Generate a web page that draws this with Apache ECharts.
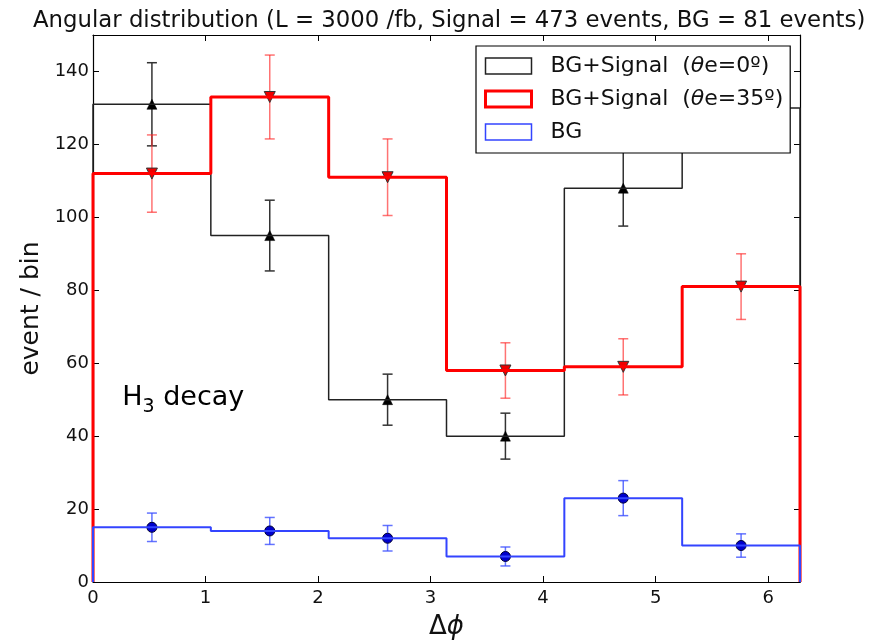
<!DOCTYPE html>
<html>
<head>
<meta charset="utf-8">
<script src="https://cdn.jsdelivr.net/npm/echarts@6/dist/echarts.min.js"></script>
<style>
  html, body { margin: 0; padding: 0; background: #fff; }
  #chart { width: 875px; height: 640px; }
</style>
</head>
<body>
<div id="chart"></div>
<script>
// bin edges / centres in delta-phi (6 bins over 0..2pi)
const binEdges = [0, 1.0472, 2.0944, 3.1416, 4.1888, 5.2360, 6.2832];
const binCenters = [0.5236, 1.5708, 2.6180, 3.6652, 4.7124, 5.7596];

// BG+Signal, theta_e = 0
const sig0 = [131, 95, 50, 40, 108, 130];
const sig0Err = [11.4, 9.7, 7.0, 6.3, 10.4, 11.4];
// BG+Signal, theta_e = 35
const sig35 = [112, 133, 111, 58, 59, 81];
const sig35Err = [10.6, 11.5, 10.5, 7.6, 7.7, 9.0];
// BG only
const bg = [15, 14, 12, 7, 23, 10];
const bgErr = [3.9, 3.7, 3.5, 2.6, 4.8, 3.2];

const yTicks = [0, 20, 40, 60, 80, 100, 120, 140];
const xTicks = [0, 1, 2, 3, 4, 5, 6];

const FONT = 'DejaVu Sans';

// histogram outline (matplotlib histtype='step')
function stepPoints(vals) {
    let pts = [[binEdges[0], 0]];
    vals.forEach((v, i) => pts.push([binEdges[i], v]));
    pts.push([binEdges[binEdges.length - 1], vals[vals.length - 1]]);
    pts.push([binEdges[binEdges.length - 1], 0]);
    return pts;
}

function points(vals, errs) {
    return binCenters.map((c, i) => [c, vals[i], errs[i]]);
}

function errRender(color) {
    return function (params, api) {
        let x = api.value(0), y = api.value(1), e = api.value(2);
        let top = api.coord([x, y + e]);
        let bot = api.coord([x, y - e]);
        let w = 5;
        let st = {stroke: color, lineWidth: 1.5};
        return {
            type: 'group',
            children: [
                {type: 'line', shape: {x1: top[0], y1: top[1], x2: bot[0], y2: bot[1]}, style: st},
                {type: 'line', shape: {x1: top[0] - w, y1: top[1], x2: top[0] + w, y2: top[1]}, style: st},
                {type: 'line', shape: {x1: bot[0] - w, y1: bot[1], x2: bot[0] + w, y2: bot[1]}, style: st}
            ]
        };
    };
}

const legendText = {
    sig0: '{n|BG+Signal}  {p|(}{t|θ}{p|e=0º)}',
    sig35: '{n|BG+Signal}  {p|(}{t|θ}{p|e=35º)}',
    bg: '{n|BG}'
};

const chart = echarts.init(document.getElementById('chart'));

const axisCommon = {
    axisLine: {show: true, onZero: false, lineStyle: {color: '#000', width: 1.2}},
    axisTick: {show: true, inside: true, length: 6, lineStyle: {color: '#000', width: 1}},
    splitLine: {show: false}
};

let option = {
    animation: false,
    backgroundColor: '#fff',
    textStyle: {fontFamily: FONT},
    title: {
        text: 'Angular distribution (L = 3000 /fb, Signal = 473 events, BG = 81 events)',
        left: 28,
        top: 5,
        textStyle: {fontFamily: FONT, fontSize: 22.8, fontWeight: 'normal', color: '#111'}
    },
    grid: {left: 93, right: 75, top: 35, bottom: 58, containLabel: false, outerBoundsMode: 'none'},
    legend: {
        orient: 'vertical',
        left: 476,
        top: 46,
        padding: [9, 7, 10, 8],
        itemWidth: 46,
        itemHeight: 16,
        itemGap: 11,
        borderColor: '#000',
        borderWidth: 1.2,
        backgroundColor: '#fff',
        z: 10,
        data: [
            {name: 'sig0', icon: 'rect', itemStyle: {color: 'rgba(0,0,0,0)', borderColor: '#222', borderWidth: 1.5}},
            {name: 'sig35', icon: 'rect', itemStyle: {color: 'rgba(0,0,0,0)', borderColor: '#ff0000', borderWidth: 3}},
            {name: 'bg', icon: 'rect', itemStyle: {color: 'rgba(0,0,0,0)', borderColor: '#3344ff', borderWidth: 1.5}}
        ],
        formatter: function (name) {
            return legendText[name];
        },
        textStyle: {
            fontFamily: FONT,
            fontSize: 22,
            color: '#111',
            rich: {
                n: {fontFamily: FONT, fontSize: 22, color: '#111', padding: [0, 0, 0, 14]},
                p: {fontFamily: FONT, fontSize: 22, color: '#111'},
                t: {fontFamily: FONT, fontSize: 22, color: '#111', fontStyle: 'italic'}
            }
        }
    },
    xAxis: [
        Object.assign({}, axisCommon, {
            type: 'value', min: 0, max: binEdges[binEdges.length - 1], interval: 1,
            position: 'bottom',
            name: '{d|Δ}{f|ϕ}',
            nameLocation: 'middle',
            nameGap: 32,
            nameTextStyle: {
                rich: {
                    d: {fontFamily: FONT, fontSize: 26, color: '#111'},
                    f: {fontFamily: FONT, fontSize: 26, color: '#111', fontStyle: 'italic'}
                }
            },
            axisLabel: {
                show: true, margin: 7, fontFamily: FONT, fontSize: 18, color: '#111',
                showMaxLabel: false,
                formatter: v => xTicks.indexOf(v) >= 0 ? String(v) : ''
            }
        }),
        Object.assign({}, axisCommon, {
            type: 'value', min: 0, max: binEdges[binEdges.length - 1], interval: 1,
            position: 'top',
            axisLabel: {show: false}
        })
    ],
    yAxis: [
        Object.assign({}, axisCommon, {
            type: 'value', min: 0, max: 150, interval: 20,
            position: 'left',
            name: 'event / bin',
            nameLocation: 'middle',
            nameGap: 42,
            nameTextStyle: {fontFamily: FONT, fontSize: 25, color: '#111'},
            axisLabel: {
                show: true, margin: 4, fontFamily: FONT, fontSize: 18, color: '#111',
                showMaxLabel: false,
                formatter: v => yTicks.indexOf(v) >= 0 ? String(v) : ''
            }
        }),
        Object.assign({}, axisCommon, {
            type: 'value', min: 0, max: 150, interval: 20,
            position: 'right',
            axisLabel: {show: false}
        })
    ],
    graphic: [],
    series: [
        {
            name: 'sig0', type: 'line', step: 'end', showSymbol: false,
            data: stepPoints(sig0),
            lineStyle: {color: '#222', width: 1.5},
            itemStyle: {color: '#222'}
        },
        {
            name: 'sig0err', type: 'custom', renderItem: errRender('#333'),
            encode: {x: 0, y: 1}, data: points(sig0, sig0Err)
        },
        {
            name: 'sig0pts', type: 'scatter', symbol: 'triangle', symbolSize: 10,
            data: points(sig0, sig0Err),
            itemStyle: {color: '#000', borderColor: '#000', borderWidth: 0.5, opacity: 1}
        },
        {
            name: 'sig35', type: 'line', step: 'end', showSymbol: false,
            data: stepPoints(sig35),
            lineStyle: {color: '#ff0000', width: 3},
            itemStyle: {color: '#ff0000'}
        },
        {
            name: 'sig35err', type: 'custom', renderItem: errRender('rgba(255,40,40,0.65)'),
            encode: {x: 0, y: 1}, data: points(sig35, sig35Err)
        },
        {
            name: 'sig35pts', type: 'scatter', symbol: 'triangle', symbolRotate: 180, symbolSize: 11,
            data: points(sig35, sig35Err),
            itemStyle: {color: '#ee0000', borderColor: '#333', borderWidth: 1, opacity: 1}
        },
        {
            name: 'bg', type: 'line', step: 'end', showSymbol: false,
            data: stepPoints(bg),
            lineStyle: {color: '#3344ff', width: 2},
            itemStyle: {color: '#3344ff'}
        },
        {
            name: 'bgerr', type: 'custom', renderItem: errRender('rgba(60,80,255,0.8)'),
            encode: {x: 0, y: 1}, data: points(bg, bgErr)
        },
        {
            name: 'bgpts', type: 'scatter', symbol: 'circle', symbolSize: 10,
            data: points(bg, bgErr),
            itemStyle: {color: '#0000cc', borderColor: '#000033', borderWidth: 1, opacity: 1}
        }
    ]
};

chart.setOption(option);

// "H3 decay" annotation placed in data coordinates
const annPos = chart.convertToPixel({xAxisIndex: 0, yAxisIndex: 0}, [0.26, 54.3]);
chart.setOption({
    graphic: [{
        type: 'text',
        x: annPos[0],
        y: annPos[1],
        style: {
            text: '{a|H}{s|3}{a| decay}',
            rich: {
                a: {fontFamily: FONT, fontSize: 27, color: '#333', verticalAlign: 'top'},
                s: {fontFamily: FONT, fontSize: 19, color: '#333', verticalAlign: 'top', padding: [14, 0, 0, 0]}
            }
        },
        z: 5
    }]
});
</script>
</body>
</html>
